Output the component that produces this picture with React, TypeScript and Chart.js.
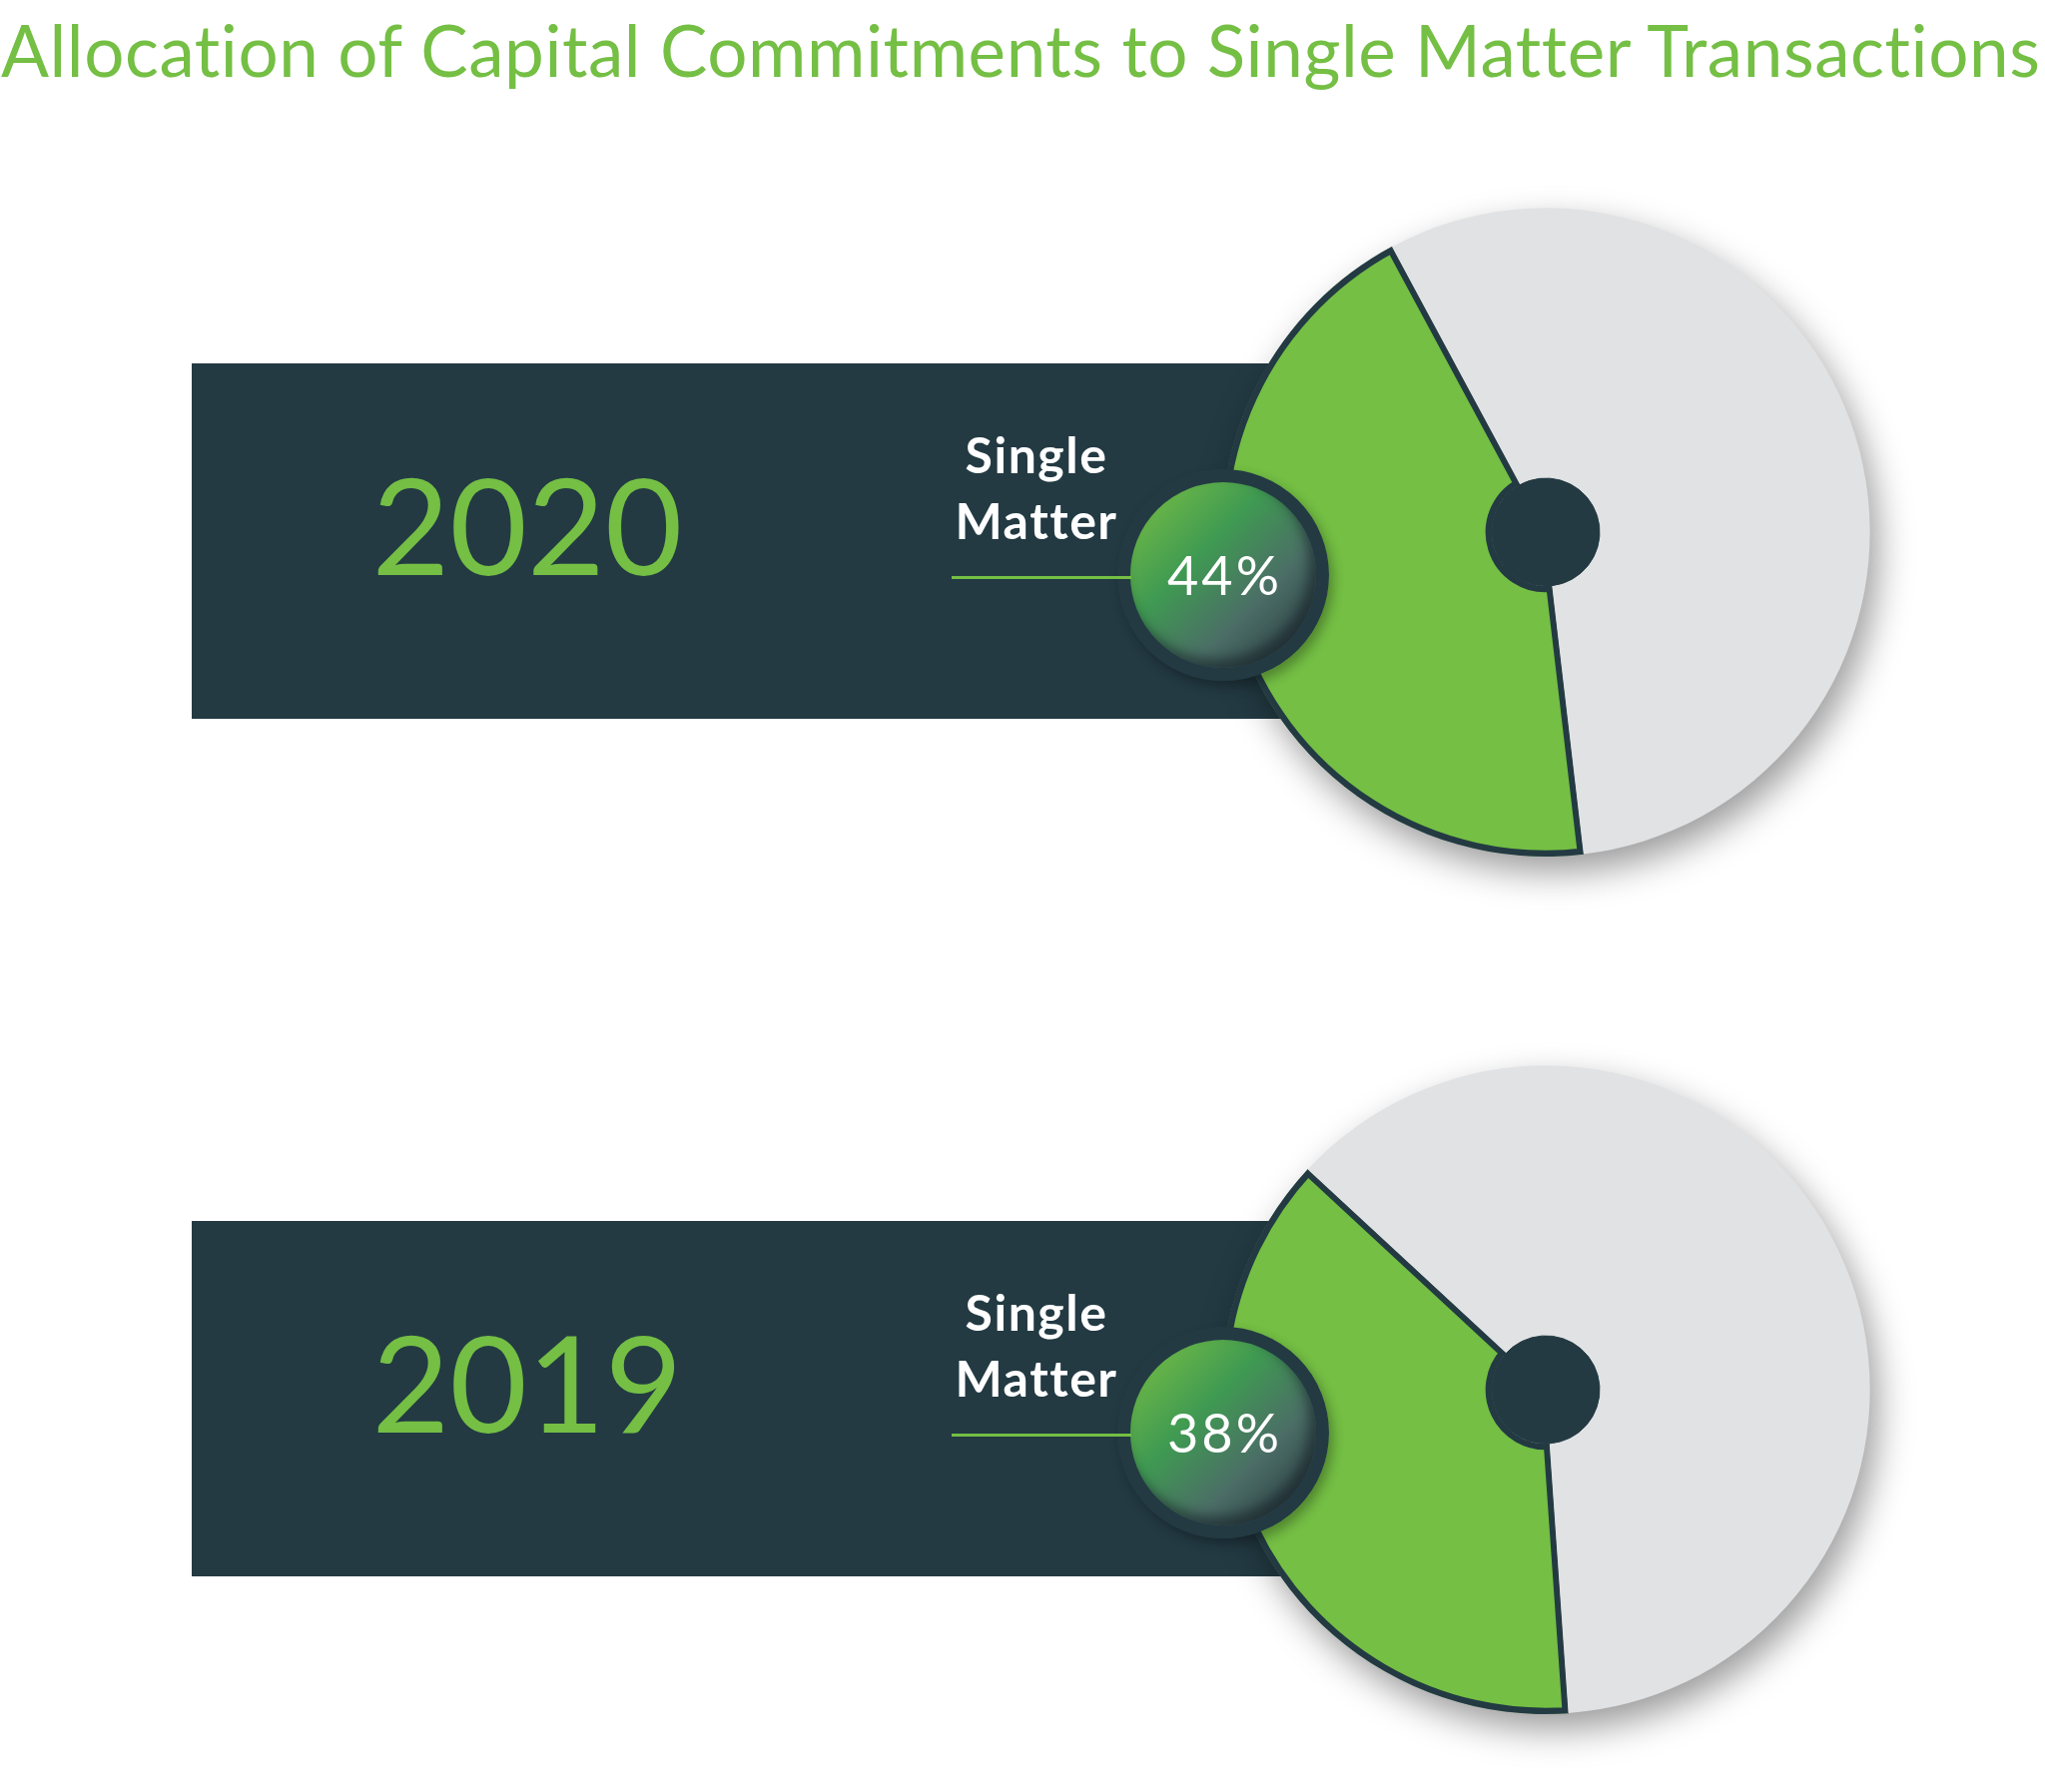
import React, { useEffect, useLayoutEffect, useRef, useState } from "react";
import { Chart, registerables } from "chart.js";

Chart.register(...registerables);

// ---------- data ----------
const TITLE = "Allocation of Capital Commitments to Single Matter Transactions";
const years = ["2020", "2019"];
const categories = ["Single Matter", "Other"];
const singleMatterShare = [44, 38];
const otherShare = [56, 62];

// ---------- style ----------
const GREEN = "#74bf44";
const GREY = "#e1e2e4";
const DARK = "#233a43";
const ROW_STEP = 859;
const PIE_CX = 1548;
const PIE_CY = 533;
const CANVAS = 800;
const rotations = [173.3, 176];

function Pie({ index }: { index: number }) {
  const ref = useRef<HTMLCanvasElement>(null);
  useEffect(() => {
    if (!ref.current) return;
    const shadowPlugin = {
      id: "pieShadow",
      beforeDatasetsDraw(chart: any) {
        const arc = chart.getDatasetMeta(0).data[0];
        if (!arc) return;
        const { x, y, outerRadius } = arc.getProps(["x", "y", "outerRadius"], true);
        const ctx = chart.ctx;
        ctx.save();
        ctx.shadowColor = "rgba(0,0,0,0.40)";
        ctx.shadowBlur = 36;
        ctx.shadowOffsetX = 8;
        ctx.shadowOffsetY = 16;
        ctx.beginPath();
        ctx.arc(x, y, outerRadius - 1, 0, Math.PI * 2);
        ctx.fillStyle = GREY;
        ctx.fill();
        ctx.restore();
      },
    };
    const chart = new Chart(ref.current, {
      type: "doughnut",
      data: {
        labels: categories,
        datasets: [
          {
            data: [singleMatterShare[index], otherShare[index]],
            backgroundColor: [GREEN, GREY],
            borderColor: [DARK, GREY],
            borderWidth: [6, 0],
            borderAlign: "inner",
            hoverBorderWidth: 0,
            weight: 271,
            order: 1,
          } as any,
          {
            data: [100],
            backgroundColor: [DARK],
            borderColor: [DARK],
            borderWidth: 1,
            hoverBorderWidth: 1,
            weight: 54,
            order: 0,
          } as any,
        ],
      },
      options: {
        responsive: false,
        animation: false,
        cutout: 0,
        rotation: rotations[index],
        layout: { padding: 75 },
        events: [],
        plugins: { legend: { display: false }, tooltip: { enabled: false } },
      } as any,
      plugins: [shadowPlugin],
    });
    return () => chart.destroy();
  }, [index]);
  return (
    <canvas
      ref={ref}
      width={CANVAS}
      height={CANVAS}
      style={{
        position: "absolute",
        left: PIE_CX - CANVAS / 2,
        top: PIE_CY - CANVAS / 2 + index * ROW_STEP,
        width: CANVAS,
        height: CANVAS,
        zIndex: 2,
      }}
    />
  );
}

function Row({ index }: { index: number }) {
  const dy = index * ROW_STEP;
  return (
    <>
      <div
        style={{
          position: "absolute",
          left: 192,
          top: 364 + dy,
          width: 1320,
          height: 356,
          background: DARK,
          zIndex: 1,
        }}
      />
      <div
        style={{
          position: "absolute",
          left: 328,
          width: 400,
          top: 458 + dy,
          textAlign: "center",
          font: "400 134px Lato",
          lineHeight: "134px",
          color: GREEN,
          zIndex: 3,
          whiteSpace: "nowrap",
        }}
      >
        {years[index]}
      </div>
      <div
        style={{
          position: "absolute",
          left: 888,
          width: 300,
          top: 422 + dy,
          textAlign: "center",
          font: "700 50px Lato",
          lineHeight: "66px",
          letterSpacing: "1.5px",
          color: "#ffffff",
          zIndex: 3,
        }}
      >
        <div>Single</div>
        <div>Matter</div>
      </div>
      <div
        style={{
          position: "absolute",
          left: 1225 - 106,
          top: 576 - 106 + dy,
          width: 212,
          height: 212,
          boxSizing: "border-box",
          borderRadius: "50%",
          border: `13px solid ${DARK}`,
          background:
            "linear-gradient(135deg, #7cc142 0%, #3f9a52 38%, #4b6e66 66%, #26343e 100%)",
          boxShadow: "inset -7px -9px 12px rgba(18,28,34,0.55), 4px 6px 12px rgba(0,0,0,0.30)",
          display: "flex",
          alignItems: "center",
          justifyContent: "center",
          zIndex: 4,
        }}
      >
        <span
          style={{
            font: "400 54px Lato",
            lineHeight: "54px",
            letterSpacing: "3px",
            color: "#ffffff",
            paddingLeft: 3,
            whiteSpace: "nowrap",
          }}
        >
          {singleMatterShare[index]}%
        </span>
      </div>
      <div
        style={{
          position: "absolute",
          left: 953,
          width: 180,
          top: 577 + dy,
          height: 3,
          background: GREEN,
          zIndex: 5,
        }}
      />
      <Pie index={index} />
    </>
  );
}

export default function App() {
  const titleRef = useRef<HTMLSpanElement>(null);
  const [letterSpacing, setLetterSpacing] = useState<number | null>(null);

  useLayoutEffect(() => {
    if (letterSpacing !== null || !titleRef.current) return;
    const w = titleRef.current.getBoundingClientRect().width;
    setLetterSpacing((2042 - w) / (TITLE.length - 1));
  }, [letterSpacing]);

  return (
    <div
      style={{
        position: "absolute",
        left: 0,
        top: 0,
        width: 2048,
        height: 1795,
        overflow: "hidden",
        background: "#ffffff",
      }}
    >
      <span
        ref={titleRef}
        style={{
          position: "absolute",
          left: 1,
          top: 14,
          font: "400 71px Lato",
          lineHeight: "71px",
          color: GREEN,
          whiteSpace: "nowrap",
          letterSpacing: `${letterSpacing ?? 0}px`,
        }}
      >
        {TITLE}
      </span>
      {years.map((_, i) => (
        <Row key={i} index={i} />
      ))}
    </div>
  );
}
